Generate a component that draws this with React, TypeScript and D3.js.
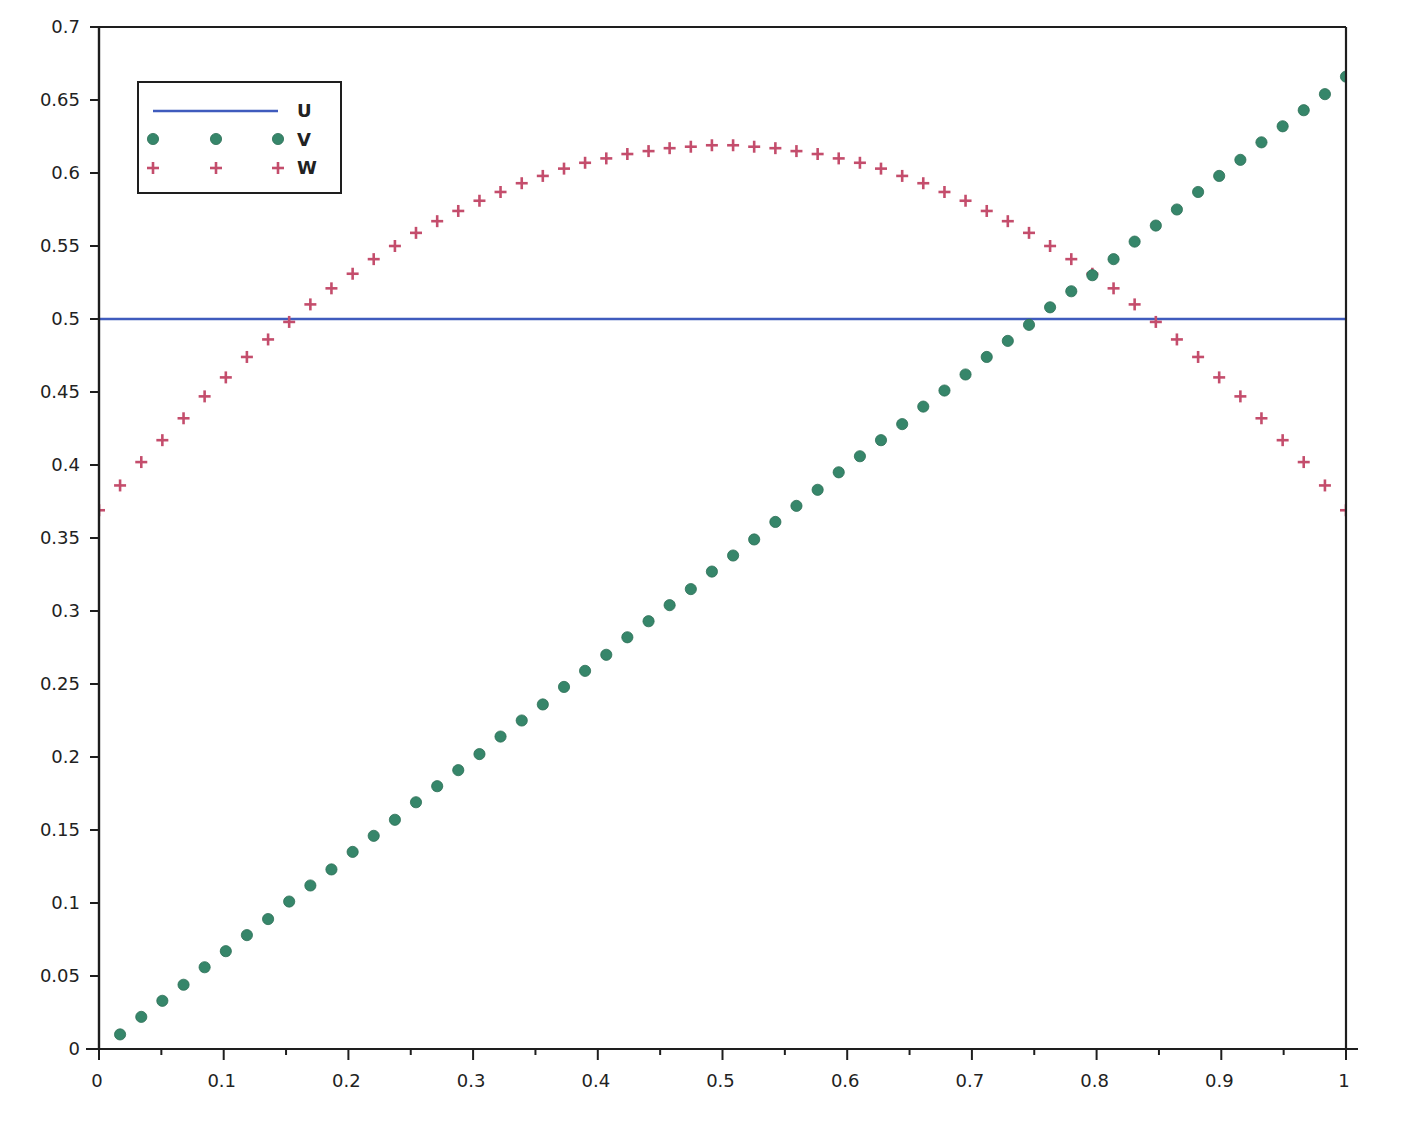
import React from 'react';
import * as d3 from 'd3';

// sample grid (k/59)
const xValues = [
  0, 0.0169, 0.0339, 0.0508, 0.0678, 0.0847, 0.1017, 0.1186, 0.1356, 0.1525,
  0.1695, 0.1864, 0.2034, 0.2203, 0.2373, 0.2542, 0.2712, 0.2881, 0.3051, 0.322,
  0.339, 0.3559, 0.3729, 0.3898, 0.4068, 0.4237, 0.4407, 0.4576, 0.4746, 0.4915,
  0.5085, 0.5254, 0.5424, 0.5593, 0.5763, 0.5932, 0.6102, 0.6271, 0.6441, 0.661,
  0.678, 0.6949, 0.7119, 0.7288, 0.7458, 0.7627, 0.7797, 0.7966, 0.8136, 0.8305,
  0.8475, 0.8644, 0.8814, 0.8983, 0.9153, 0.9322, 0.9492, 0.9661, 0.9831, 1,
];

const uX = [0, 1];
const uValues = [0.5, 0.5];

// V starts at the second sample
const vValues = [
  0.010, 0.022, 0.033, 0.044, 0.056, 0.067, 0.078, 0.089, 0.101, 0.112,
  0.123, 0.135, 0.146, 0.157, 0.169, 0.180, 0.191, 0.202, 0.214, 0.225,
  0.236, 0.248, 0.259, 0.270, 0.282, 0.293, 0.304, 0.315, 0.327, 0.338,
  0.349, 0.361, 0.372, 0.383, 0.395, 0.406, 0.417, 0.428, 0.440, 0.451,
  0.462, 0.474, 0.485, 0.496, 0.508, 0.519, 0.530, 0.541, 0.553, 0.564,
  0.575, 0.587, 0.598, 0.609, 0.621, 0.632, 0.643, 0.654, 0.666,
];

const wValues = [
  0.369, 0.386, 0.402, 0.417, 0.432, 0.447, 0.460, 0.474, 0.486, 0.498,
  0.510, 0.521, 0.531, 0.541, 0.550, 0.559, 0.567, 0.574, 0.581, 0.587,
  0.593, 0.598, 0.603, 0.607, 0.610, 0.613, 0.615, 0.617, 0.618, 0.619,
  0.619, 0.618, 0.617, 0.615, 0.613, 0.610, 0.607, 0.603, 0.598, 0.593,
  0.587, 0.581, 0.574, 0.567, 0.559, 0.550, 0.541, 0.531, 0.521, 0.510,
  0.498, 0.486, 0.474, 0.460, 0.447, 0.432, 0.417, 0.402, 0.386, 0.369,
];

const xTicks = [0, 0.1, 0.2, 0.3, 0.4, 0.5, 0.6, 0.7, 0.8, 0.9, 1];
const xTickLabels = ['0', '0.1', '0.2', '0.3', '0.4', '0.5', '0.6', '0.7', '0.8', '0.9', '1'];
const xMinorTicks = [0.05, 0.15, 0.25, 0.35, 0.45, 0.55, 0.65, 0.75, 0.85, 0.95];
const yTicks = [0, 0.05, 0.1, 0.15, 0.2, 0.25, 0.3, 0.35, 0.4, 0.45, 0.5, 0.55, 0.6, 0.65, 0.7];
const yTickLabels = ['0', '0.05', '0.1', '0.15', '0.2', '0.25', '0.3', '0.35', '0.4', '0.45', '0.5', '0.55', '0.6', '0.65', '0.7'];
const seriesNames = ['U', 'V', 'W'];

const BLUE = '#3f5bbd';
const GREEN = '#36866a';
const PINK = '#c44d6c';
const AXIS = '#1e1e1e';
const FONT = '"DejaVu Sans", Verdana, sans-serif';

const W = 1416;
const H = 1124;
const left = 99;
const right = 1346;
const top = 27;
const bottom = 1049;

const Plus = ({ cx, cy }: { cx: number; cy: number }) => (
  <g stroke={PINK} strokeWidth={2.6}>
    <line x1={cx - 6} x2={cx + 6} y1={cy} y2={cy} />
    <line x1={cx} x2={cx} y1={cy - 6} y2={cy + 6} />
  </g>
);

const Dot = ({ cx, cy }: { cx: number; cy: number }) => (
  <circle cx={cx} cy={cy} r={5.6} fill={GREEN} stroke="#2c6e55" strokeWidth={0.8} />
);

export default function App() {
  const x = d3.scaleLinear().domain([0, 1]).range([left, right]);
  const y = d3.scaleLinear().domain([0, 0.7]).range([bottom, top]);
  const uLine = d3.line<number>().x((_, i) => x(uX[i])).y((d) => y(d))(uValues) || '';
  const vX = xValues.slice(1);

  const lgX0 = 153, lgX1 = 216, lgX2 = 278, lgText = 297;

  return (
    <svg width={W} height={H} style={{ position: 'absolute', left: 0, top: 0, background: '#fff' }}>
      <defs>
        <clipPath id="plotClip">
          <rect x={left} y={top} width={right - left} height={bottom - top} />
        </clipPath>
      </defs>
      <rect x={0} y={0} width={W} height={H} fill="#fff" />

      <g clipPath="url(#plotClip)">
        <path d={uLine} stroke={BLUE} strokeWidth={2.4} fill="none" />
        {wValues.map((d, i) => (
          <Plus key={'w' + i} cx={x(xValues[i])} cy={y(d)} />
        ))}
        {vValues.map((d, i) => (
          <Dot key={'v' + i} cx={x(vX[i])} cy={y(d)} />
        ))}
      </g>

      {/* frame */}
      <line x1={left} x2={right} y1={top} y2={top} stroke={AXIS} strokeWidth={2} />
      <line x1={right} x2={right} y1={top} y2={bottom} stroke={AXIS} strokeWidth={2.2} />
      <line x1={left} x2={left} y1={top} y2={bottom} stroke={AXIS} strokeWidth={2.4} />
      <line x1={86} x2={1358} y1={bottom} y2={bottom} stroke={AXIS} strokeWidth={2} />

      {/* y ticks */}
      {yTicks.map((t, i) => (
        <g key={'yt' + i}>
          <line x1={left - 9} x2={left} y1={y(t)} y2={y(t)} stroke={AXIS} strokeWidth={2} />
          <text x={80} y={y(t)} dy="0.36em" textAnchor="end" fontFamily={FONT} fontSize={18} fill="#222">
            {yTickLabels[i]}
          </text>
        </g>
      ))}

      {/* x ticks */}
      {xTicks.map((t, i) => (
        <g key={'xt' + i}>
          <line x1={x(t)} x2={x(t)} y1={bottom} y2={bottom + 11} stroke={AXIS} strokeWidth={2} />
          <text x={x(t) - 2} y={1087} textAnchor="middle" fontFamily={FONT} fontSize={18} fill="#222">
            {xTickLabels[i]}
          </text>
        </g>
      ))}
      {xMinorTicks.map((t, i) => (
        <line key={'xm' + i} x1={x(t)} x2={x(t)} y1={bottom} y2={bottom + 6} stroke={AXIS} strokeWidth={2} />
      ))}

      {/* legend */}
      <rect x={138} y={82} width={203} height={111} fill="#fff" stroke={AXIS} strokeWidth={2} />
      <line x1={lgX0} x2={lgX2} y1={111} y2={111} stroke={BLUE} strokeWidth={2.4} />
      <Dot cx={lgX0} cy={139} />
      <Dot cx={lgX1} cy={139} />
      <Dot cx={lgX2} cy={139} />
      <Plus cx={lgX0} cy={168} />
      <Plus cx={lgX1} cy={168} />
      <Plus cx={lgX2} cy={168} />
      {seriesNames.map((n, i) => (
        <text key={n} x={lgText} y={111 + i * 28.5} dy="0.36em" fontFamily={FONT} fontSize={18} fontWeight="bold" fill="#222">
          {n}
        </text>
      ))}
    </svg>
  );
}
